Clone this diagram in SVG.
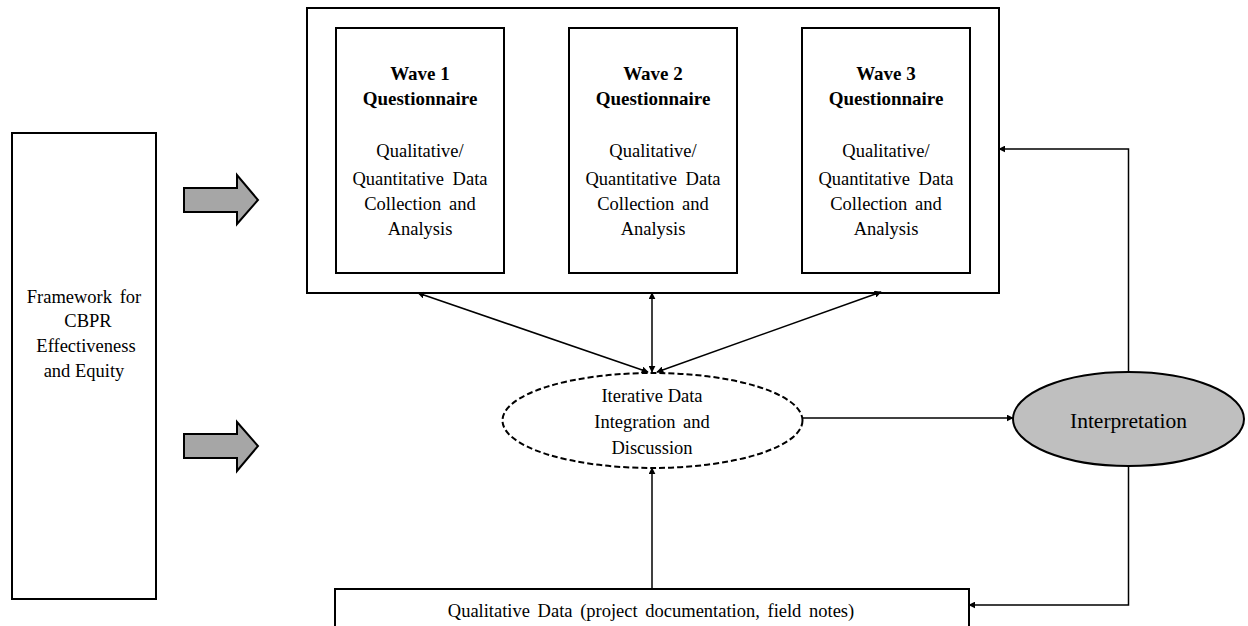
<svg xmlns="http://www.w3.org/2000/svg" width="1248" height="626" viewBox="0 0 1248 626">
  <style>
    .box { fill: #ffffff; stroke: #000000; stroke-width: 2; }
    .txt { font-family: "Liberation Serif", "Times New Roman", serif; font-size: 18.5px; fill: #000000; text-anchor: middle; }
    .bold { font-weight: bold; font-size: 19px; }
    .big { font-size: 21.5px; }
    .block { fill: #a6a6a6; stroke: #000000; stroke-width: 2; stroke-linejoin: miter; }
    .link { fill: none; stroke: #000000; stroke-width: 1.5; }
  </style>
  <defs>
    <marker id="head" viewBox="0 0 10 10" refX="9" refY="5" markerWidth="7" markerHeight="7" markerUnits="userSpaceOnUse" orient="auto-start-reverse">
      <path d="M0,0 L10,5 L0,10 Z" fill="#000000"/>
    </marker>
  </defs>

  <rect width="1248" height="626" fill="#ffffff"/>

  <!-- framework column -->
  <g id="framework">
    <rect class="box" x="12" y="133" width="144" height="466"/>
    <text class="txt" x="84" y="303" word-spacing="3">Framework for</text>
    <text class="txt" x="88" y="327">CBPR</text>
    <text class="txt" x="86" y="352">Effectiveness</text>
    <text class="txt" x="84" y="377">and Equity</text>
  </g>

  <!-- block arrows -->
  <g id="block-arrow-top">
    <path class="block" d="M184,188 L237,188 L237,175 L258,200 L237,224 L237,212 L184,212 Z"/>
  </g>
  <g id="block-arrow-bottom">
    <path class="block" d="M184,434 L237,434 L237,422 L258,446 L237,471 L237,458 L184,458 Z"/>
  </g>

  <!-- questionnaire waves -->
  <g id="waves">
    <rect class="box" x="307" y="8" width="692" height="285"/>
  </g>
  <g id="wave1">
    <rect class="box" x="336" y="28" width="168" height="245"/>
    <text class="txt bold" x="420" y="80">Wave 1</text>
    <text class="txt bold" x="420" y="105">Questionnaire</text>
    <text class="txt" x="420" y="157">Qualitative/</text>
    <text class="txt" x="420" y="185" word-spacing="4">Quantitative Data</text>
    <text class="txt" x="420" y="210" word-spacing="3">Collection and</text>
    <text class="txt" x="420" y="235">Analysis</text>
  </g>
  <g id="wave2">
    <rect class="box" x="569" y="28" width="168" height="245"/>
    <text class="txt bold" x="653" y="80">Wave 2</text>
    <text class="txt bold" x="653" y="105">Questionnaire</text>
    <text class="txt" x="653" y="157">Qualitative/</text>
    <text class="txt" x="653" y="185" word-spacing="4">Quantitative Data</text>
    <text class="txt" x="653" y="210" word-spacing="3">Collection and</text>
    <text class="txt" x="653" y="235">Analysis</text>
  </g>
  <g id="wave3">
    <rect class="box" x="802" y="28" width="168" height="245"/>
    <text class="txt bold" x="886" y="80">Wave 3</text>
    <text class="txt bold" x="886" y="105">Questionnaire</text>
    <text class="txt" x="886" y="157">Qualitative/</text>
    <text class="txt" x="886" y="185" word-spacing="4">Quantitative Data</text>
    <text class="txt" x="886" y="210" word-spacing="3">Collection and</text>
    <text class="txt" x="886" y="235">Analysis</text>
  </g>

  <!-- integration -->
  <g id="integration">
    <ellipse cx="652.5" cy="420.5" rx="150" ry="47.5" fill="#ffffff" stroke="#000000" stroke-width="2" stroke-dasharray="6,3"/>
    <text class="txt" x="652" y="402">Iterative Data</text>
    <text class="txt" x="652" y="428" word-spacing="3">Integration and</text>
    <text class="txt" x="652" y="454">Discussion</text>
  </g>

  <!-- interpretation -->
  <g id="interpretation">
    <ellipse cx="1128.5" cy="419" rx="115.5" ry="47" fill="#bfbfbf" stroke="#000000" stroke-width="2"/>
    <text class="txt big" x="1128.5" y="428">Interpretation</text>
  </g>

  <!-- qualitative data -->
  <g id="qualitative-data">
    <rect class="box" x="335" y="589" width="634" height="40"/>
    <text class="txt" x="651" y="617" word-spacing="3">Qualitative Data (project documentation, field notes)</text>
  </g>

  <!-- connectors -->
  <g id="connectors">
    <line class="link" x1="648" y1="372" x2="418" y2="293" marker-start="url(#head)" marker-end="url(#head)"/>
    <line class="link" x1="652" y1="372" x2="652" y2="293" marker-start="url(#head)" marker-end="url(#head)"/>
    <line class="link" x1="657" y1="372" x2="881" y2="292" marker-start="url(#head)" marker-end="url(#head)"/>
    <line class="link" x1="803" y1="418" x2="1013" y2="418" marker-end="url(#head)"/>
    <polyline class="link" points="1128.5,372 1128.5,149 999,149" marker-end="url(#head)"/>
    <polyline class="link" points="1128.5,466 1128.5,605 969,605" marker-end="url(#head)"/>
    <line class="link" x1="652" y1="589" x2="652" y2="468" marker-end="url(#head)"/>
  </g>
</svg>
